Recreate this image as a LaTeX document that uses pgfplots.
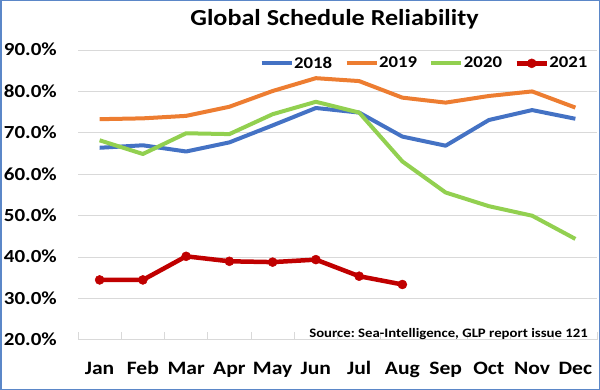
\documentclass[border=0pt]{standalone}
\usepackage{fontspec}
\setmainfont{Carlito}[FakeStretch=1.14]
\usepackage{pgfplots}
\pgfplotsset{compat=1.18}
\definecolor{c18}{HTML}{4472C4}
\definecolor{c19}{HTML}{ED7D31}
\definecolor{c20}{HTML}{92D050}
\definecolor{c21}{HTML}{C00000}
\definecolor{framecol}{HTML}{5B87C8}
\definecolor{gridcol}{HTML}{D9D9D9}
\frenchspacing
\begin{document}
\begin{tikzpicture}
\useasboundingbox (0,0) rectangle (600bp,390bp);
\draw[framecol, line width=1.5bp] (0.75bp,0.75bp) rectangle (599.25bp,389.25bp);
\node[anchor=base, inner sep=0pt, font=\fontsize{23}{25}\selectfont\bfseries] at (334.5bp,364bp) {Global Schedule Reliability};
\begin{axis}[
  at={(78bp,50bp)}, anchor=south west,
  scale only axis, width=519bp, height=290bp,
  xmin=-0.5, xmax=11.5, ymin=20, ymax=90,
  axis x line*=bottom, axis y line*=left,
  y axis line style={draw=none},
  x axis line style={-, draw=gridcol, line width=1bp},
  ytick={20,30,...,90},
  ymajorgrids, grid style={gridcol, line width=1bp},
  ytick style={draw=none},
  yticklabel={\pgfmathprintnumber[fixed,fixed zerofill,precision=1]{\tick}\%},
  /pgf/number format/assume math mode=true,
  yticklabel style={anchor=base east, inner sep=0pt, xshift=-21bp, yshift=-5.8bp, font=\fontsize{18.5}{20}\selectfont\bfseries},
  xtick={0,...,11},
  xticklabels={Jan,Feb,Mar,Apr,May,Jun,Jul,Aug,Sep,Oct,Nov,Dec},
  major x tick style={draw=none},
  minor xtick={-0.5,0.5,...,11.5},
  minor x tick style={draw=gridcol, line width=1bp},
  minor tick length=8bp,
  tick align=inside,
  xticklabel style={anchor=base, inner sep=0pt, yshift=-35bp, font=\fontsize{19}{21}\selectfont\bfseries},
  legend style={at={(0.983,0.954)}, anchor=east, draw=none, fill=none, inner sep=0pt,
    legend columns=-1, font=\fontsize{16.5}{18}\selectfont\bfseries,
    nodes={inner sep=0.5bp},
    /tikz/every even column/.append style={column sep=12bp}},
  legend image code/.code={\draw[#1, mark repeat=2, mark phase=2] plot coordinates {(0bp,0bp) (15bp,0bp) (30bp,0bp)};},
  line join=round,
]
\addplot[c18, line width=4bp, no markers] coordinates {
(0,66.4) (1,67.0) (2,65.5) (3,67.7) (4,71.8) (5,76.0) (6,74.9) (7,69.1) (8,66.9) (9,73.1) (10,75.5) (11,73.4)};
\addlegendentry{2018}
\addplot[c19, line width=4bp, no markers] coordinates {
(0,73.3) (1,73.5) (2,74.1) (3,76.3) (4,80.1) (5,83.2) (6,82.5) (7,78.5) (8,77.3) (9,78.9) (10,80.0) (11,76.1)};
\addlegendentry{2019}
\addplot[c20, line width=4bp, no markers] coordinates {
(0,68.2) (1,64.9) (2,69.9) (3,69.7) (4,74.5) (5,77.5) (6,74.9) (7,63.1) (8,55.6) (9,52.3) (10,50.0) (11,44.4)};
\addlegendentry{2020}
\addplot[c21, line width=4.5bp, mark=*, mark size=4.5bp, mark options={solid, fill=c21, line width=0.5bp}] coordinates {
(0,34.5) (1,34.5) (2,40.2) (3,39.0) (4,38.8) (5,39.4) (6,35.4) (7,33.4)};
\addlegendentry{2021}
\node[anchor=base east, inner sep=0pt, font=\fontsize{13}{15}\selectfont\bfseries] at (rel axis cs:0.9827,0.0093) {Source: Sea-Intelligence, GLP report issue 121};
\end{axis}
\end{tikzpicture}
\end{document}
